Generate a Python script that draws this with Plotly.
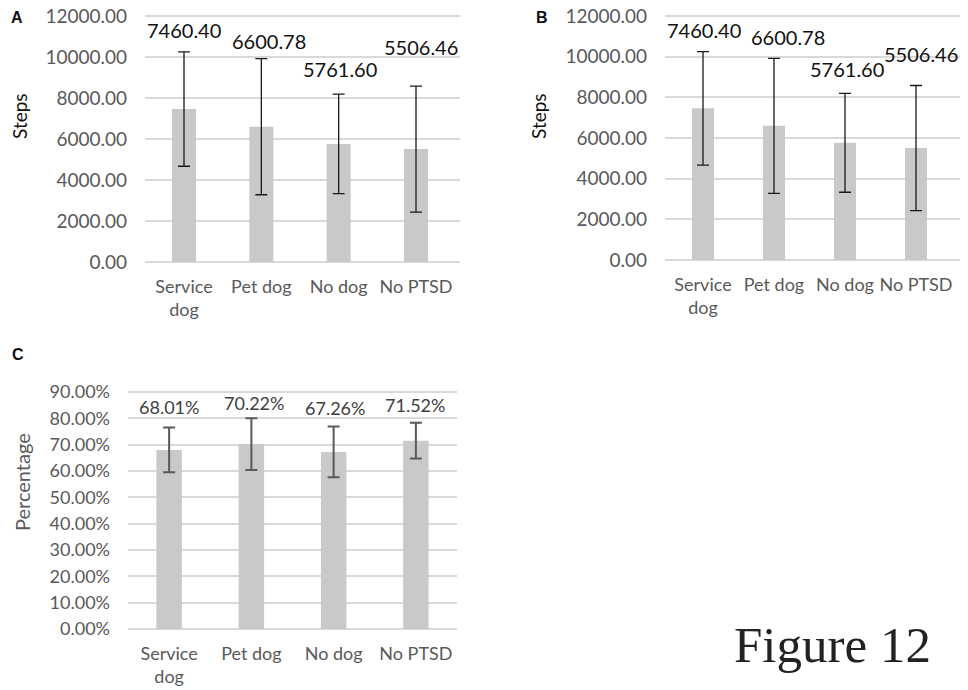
import plotly.graph_objects as go

# ---------------- data ----------------
categories = ["Service<br>dog", "Pet dog", "No dog", "No PTSD"]
steps_mean = [7460.40, 6600.78, 5761.60, 5506.46]
steps_err = [2790, 3320, 2430, 3075]
steps_labels = ["7460.40", "6600.78", "5761.60", "5506.46"]
pct_mean = [68.01, 70.22, 67.26, 71.52]
pct_err = [8.5, 9.8, 9.6, 6.8]
pct_labels = ["68.01%", "70.22%", "67.26%", "71.52%"]
steps_ticks = [0, 2000, 4000, 6000, 8000, 10000, 12000]
steps_ticktext = ["0.00", "2000.00", "4000.00", "6000.00", "8000.00", "10000.00", "12000.00"]
pct_ticks = [0, 10, 20, 30, 40, 50, 60, 70, 80, 90]
pct_ticktext = ["0.00%", "10.00%", "20.00%", "30.00%", "40.00%", "50.00%",
                "60.00%", "70.00%", "80.00%", "90.00%"]

# label offsets (styling, pixels)
dy_A = [22, 18, 25, 39]
dx_A = [0, 8, 1, 5]
dy_B = [22, 21, 24, 32]
dx_B = [1, 14, 2, 5]
dy_C = [21, 15, 19, 18]
dx_C = [0, 3, 1, -1]

FONT = "Lato, 'Open Sans', sans-serif"
BAR = "#c9c9c9"
GRID = "#d9d9d9"
TICK = "#595959"

W, H = 968, 690
PAD = 4  # extra pixels above top gridline so it is drawn inside the plot area

def fx(xp):
    return xp / W

def fy(yp):
    return 1 - yp / H

fig = go.Figure()

def add_bars(xa, ya, means, errs, ecolor, ethick):
    fig.add_trace(go.Bar(
        x=categories, y=means, xaxis=xa, yaxis=ya,
        marker=dict(color=BAR, line=dict(width=0)),
        error_y=dict(type="data", array=errs, visible=True,
                     color=ecolor, thickness=ethick, width=6),
        showlegend=False, hoverinfo="skip",
    ))

add_bars("x", "y", steps_mean, steps_err, "#1a1a1a", 1.3)
add_bars("x2", "y2", steps_mean, steps_err, "#1a1a1a", 1.3)
add_bars("x3", "y3", pct_mean, pct_err, "#595959", 2)

annotations = []
def add_labels(xref, yref, means, errs, labels, dys, dxs, color, size):
    for c, m, e, t, dy, dx in zip(categories, means, errs, labels, dys, dxs):
        annotations.append(dict(
            x=c, y=m + e, xref=xref, yref=yref, text=t, showarrow=False,
            yshift=dy, xshift=dx, font=dict(family=FONT, size=size, color=color),
            xanchor="center", yanchor="middle"))

add_labels("x", "y", steps_mean, steps_err, steps_labels, dy_A, dx_A, "#111111", 20)
add_labels("x2", "y2", steps_mean, steps_err, steps_labels, dy_B, dx_B, "#111111", 20)
add_labels("x3", "y3", pct_mean, pct_err, pct_labels, dy_C, dx_C, "#404040", 18)

# axis titles
for (xp, yp, t, col, sz) in [(19, 116, "Steps", "#111111", 19),
                              (538, 116, "Steps", "#111111", 19),
                              (22, 482, "Percentage", TICK, 20)]:
    annotations.append(dict(x=fx(xp), y=fy(yp), xref="paper", yref="paper", text=t,
                            textangle=-90, showarrow=False,
                            font=dict(family=FONT, size=sz, color=col),
                            xanchor="center", yanchor="middle"))

# panel letters
for (xp, yp, t) in [(17, 17, "A"), (542, 17, "B"), (18, 355, "C")]:
    annotations.append(dict(x=fx(xp), y=fy(yp), xref="paper", yref="paper",
                            text="<b>" + t + "</b>", showarrow=False,
                            font=dict(family="Liberation Sans, Arial", size=16, color="#111111"),
                            xanchor="center", yanchor="middle"))

# Figure caption
annotations.append(dict(x=fx(832), y=fy(645), xref="paper", yref="paper", text="Figure 12",
                        showarrow=False,
                        font=dict(family="Liberation Serif, Times New Roman, serif", size=51,
                                  color="#222222"),
                        xanchor="center", yanchor="middle"))

def xaxis(x0, x1, anchor):
    return dict(domain=[fx(x0), fx(x1)], anchor=anchor, type="category", showgrid=False,
                showline=False, zeroline=False, ticks="", tickangle=0,
                tickfont=dict(family=FONT, size=18, color=TICK),
                ticklabelstandoff=12, fixedrange=True, automargin=False)

def yaxis(y0, y1, anchor, top, ticks, ttext, size):
    # y0: pixel of 0, y1: pixel of `top`; extend by PAD px above
    span = top * (y0 - y1 + PAD) / (y0 - y1)
    return dict(domain=[fy(y0), fy(y1 - PAD)], anchor=anchor, range=[0, span],
                tickvals=ticks, ticktext=ttext,
                showgrid=True, gridcolor=GRID, gridwidth=1.5, zeroline=True,
                zerolinecolor=GRID, zerolinewidth=1.5, showline=False, ticks="",
                tickfont=dict(family=FONT, size=size, color=TICK),
                ticklabelstandoff=17, ticklabeloverflow="allow",
                fixedrange=True, automargin=False)

fig.update_layout(
    width=W, height=H, margin=dict(l=0, r=0, t=0, b=0, autoexpand=False),
    paper_bgcolor="white", plot_bgcolor="white",
    bargap=0.69, showlegend=False,
    xaxis=xaxis(145, 460, "y"),
    yaxis=yaxis(262, 16, "x", steps_ticks[-1], steps_ticks, steps_ticktext, 19),
    xaxis2=xaxis(665, 960, "y2"),
    yaxis2=yaxis(260, 16, "x2", steps_ticks[-1], steps_ticks, steps_ticktext, 19),
    xaxis3=xaxis(128, 457, "y3"),
    yaxis3=yaxis(629, 392, "x3", pct_ticks[-1], pct_ticks, pct_ticktext, 18),
    annotations=annotations,
)

fig.write_html("out.html", config={"displayModeBar": False},
               post_script="document.body.style.margin='0';document.body.style.overflow='hidden';")
